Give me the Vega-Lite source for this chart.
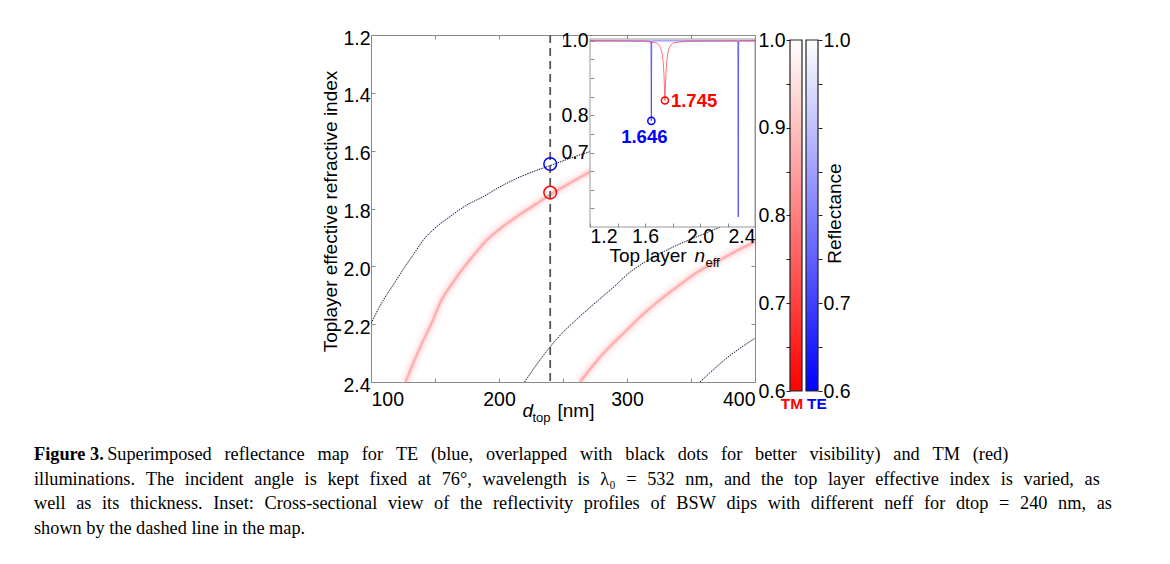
{
  "$schema": "https://vega.github.io/schema/vega-lite/v6.json",
  "width": 384,
  "height": 347,
  "autosize": {"type": "none"},
  "padding": {"left": 371, "top": 35, "right": 415, "bottom": 182},
  "background": "white",
  "title": {
    "text": "Figure 3.",
    "subtitle": [
      "\u200b\u00a0\u00a0\u00a0\u00a0\u00a0\u00a0\u00a0\u00a0\u00a0\u00a0\u00a0\u00a0\u00a0\u00a0\u00a0\u00a0Superimposed\u2002\u2009reflectance\u2002\u2009map\u2002\u2009for\u2002\u2009TE\u2002\u2009(blue,\u2002\u2009overlapped\u2002\u2009with\u2002\u2009black\u2002\u2009dots\u2002\u2009for\u2002\u2009better\u2002\u2009visibility)\u2002\u2009and\u2002\u2009TM\u2002\u2009(red)",
      "illuminations.\u2004\u2005The\u2004\u2005incident\u2004\u2005angle\u2004\u2005is\u2004\u2005kept\u2004\u2005fixed\u2004\u2005at\u2004\u200576°,\u2004\u2005wavelength\u2004\u2005is\u2004\u2005λ₀\u2004\u2005=\u2004\u2005532\u2004\u2005nm,\u2004\u2005and\u2004\u2005the\u2004\u2005top\u2004\u2005layer\u2004\u2005effective\u2004\u2005index\u2004\u2005is\u2004\u2005varied,\u2004\u2005as",
      "well\u2004\u2005as\u2004\u2005its\u2004\u2005thickness.\u2004\u2005Inset:\u2004\u2005Cross-sectional\u2004\u2005view\u2004\u2005of\u2004\u2005the\u2004\u2005reflectivity\u2004\u2005profiles\u2004\u2005of\u2004\u2005BSW\u2004\u2005dips\u2004\u2005with\u2004\u2005different\u2004\u2005neff\u2004\u2005for\u2004\u2005dtop\u2004\u2005=\u2004\u2005240\u2004\u2005nm,\u2004\u2005as",
      "shown by the dashed line in the map."
    ],
    "orient": "bottom",
    "anchor": "start",
    "frame": "group",
    "dx": -337,
    "offset": 22,
    "font": "Liberation Serif",
    "fontSize": 18.3,
    "fontWeight": "bold",
    "color": "black",
    "subtitleFont": "Liberation Serif",
    "subtitleFontSize": 18.3,
    "subtitleFontWeight": "normal",
    "subtitleColor": "black",
    "subtitleLineHeight": 24.5,
    "subtitlePadding": -18.3
  },
  "config": {
    "view": {"stroke": "#8a8a8a", "strokeWidth": 1},
    "axis": {
      "grid": false,
      "domain": false,
      "tickColor": "#8a8a8a",
      "tickWidth": 1,
      "labelFont": "Liberation Sans",
      "labelFontSize": 19.5,
      "labelColor": "black",
      "titleFont": "Liberation Sans",
      "titleFontSize": 19,
      "titleFontWeight": "normal",
      "titleColor": "black"
    },
    "text": {"font": "Liberation Sans"}
  },
  "datasets": {
    "tm": [
      {"curve": "TM1", "d": 127, "n": 2.4},
      {"curve": "TM1", "d": 134, "n": 2.325},
      {"curve": "TM1", "d": 141, "n": 2.255},
      {"curve": "TM1", "d": 148, "n": 2.19},
      {"curve": "TM1", "d": 155, "n": 2.117},
      {"curve": "TM1", "d": 163, "n": 2.062},
      {"curve": "TM1", "d": 172, "n": 2.007},
      {"curve": "TM1", "d": 181, "n": 1.957},
      {"curve": "TM1", "d": 190.4, "n": 1.909},
      {"curve": "TM1", "d": 202, "n": 1.866},
      {"curve": "TM1", "d": 213.8, "n": 1.828},
      {"curve": "TM1", "d": 227, "n": 1.79},
      {"curve": "TM1", "d": 240, "n": 1.752},
      {"curve": "TM1", "d": 255, "n": 1.713},
      {"curve": "TM1", "d": 271, "n": 1.673},
      {"curve": "TM1", "d": 290, "n": 1.63},
      {"curve": "TM1", "d": 310, "n": 1.59},
      {"curve": "TM2", "d": 263.3, "n": 2.4},
      {"curve": "TM2", "d": 273, "n": 2.345},
      {"curve": "TM2", "d": 284.1, "n": 2.289},
      {"curve": "TM2", "d": 300, "n": 2.22},
      {"curve": "TM2", "d": 312, "n": 2.168},
      {"curve": "TM2", "d": 325.8, "n": 2.116},
      {"curve": "TM2", "d": 340, "n": 2.068},
      {"curve": "TM2", "d": 353.6, "n": 2.024},
      {"curve": "TM2", "d": 370, "n": 1.984},
      {"curve": "TM2", "d": 385, "n": 1.948},
      {"curve": "TM2", "d": 400.3, "n": 1.915}
    ],
    "te": [
      {"curve": "TE1", "d": 100, "n": 2.197},
      {"curve": "TE1", "d": 109.6, "n": 2.117},
      {"curve": "TE1", "d": 118, "n": 2.06},
      {"curve": "TE1", "d": 126, "n": 2.005},
      {"curve": "TE1", "d": 133, "n": 1.96},
      {"curve": "TE1", "d": 140.9, "n": 1.909},
      {"curve": "TE1", "d": 150, "n": 1.868},
      {"curve": "TE1", "d": 161.7, "n": 1.828},
      {"curve": "TE1", "d": 174, "n": 1.79},
      {"curve": "TE1", "d": 187.7, "n": 1.759},
      {"curve": "TE1", "d": 200, "n": 1.727},
      {"curve": "TE1", "d": 213.8, "n": 1.696},
      {"curve": "TE1", "d": 227, "n": 1.672},
      {"curve": "TE1", "d": 239.8, "n": 1.652},
      {"curve": "TE1", "d": 255, "n": 1.627},
      {"curve": "TE1", "d": 272, "n": 1.602},
      {"curve": "TE1", "d": 290, "n": 1.578},
      {"curve": "TE2", "d": 220, "n": 2.4},
      {"curve": "TE2", "d": 230, "n": 2.336},
      {"curve": "TE2", "d": 240, "n": 2.278},
      {"curve": "TE2", "d": 250, "n": 2.228},
      {"curve": "TE2", "d": 260, "n": 2.186},
      {"curve": "TE2", "d": 277.6, "n": 2.117},
      {"curve": "TE2", "d": 290, "n": 2.07},
      {"curve": "TE2", "d": 301.6, "n": 2.023},
      {"curve": "TE2", "d": 320, "n": 1.97},
      {"curve": "TE2", "d": 340, "n": 1.925},
      {"curve": "TE2", "d": 360, "n": 1.888},
      {"curve": "TE2", "d": 376.4, "n": 1.857},
      {"curve": "TE2", "d": 400, "n": 1.82},
      {"curve": "TE3", "d": 357, "n": 2.4},
      {"curve": "TE3", "d": 368, "n": 2.355},
      {"curve": "TE3", "d": 380, "n": 2.31},
      {"curve": "TE3", "d": 390, "n": 2.278},
      {"curve": "TE3", "d": 400, "n": 2.249}
    ],
    "dip": [
      {"pol": "TE", "d": 240, "n": 1.646, "R": 0.785, "label": "1.646"},
      {"pol": "TM", "d": 240, "n": 1.745, "R": 0.84, "label": "1.745"}
    ],
    "profile": [
      {"pol": "TE", "n": 1.2, "R": 1.0},
      {"pol": "TE", "n": 1.64, "R": 1.0},
      {"pol": "TE", "n": 1.643, "R": 0.999},
      {"pol": "TE", "n": 1.646, "R": 0.785},
      {"pol": "TE", "n": 1.649, "R": 0.999},
      {"pol": "TE", "n": 1.652, "R": 1.0},
      {"pol": "TE", "n": 2.27, "R": 1.0},
      {"pol": "TE", "n": 2.275, "R": 0.999},
      {"pol": "TE", "n": 2.278, "R": 0.527},
      {"pol": "TE", "n": 2.281, "R": 0.999},
      {"pol": "TE", "n": 2.285, "R": 1.0},
      {"pol": "TE", "n": 2.4, "R": 1.0},
      {"pol": "TM", "n": 1.2, "R": 1.0},
      {"pol": "TM", "n": 1.6, "R": 0.999},
      {"pol": "TM", "n": 1.68, "R": 0.995},
      {"pol": "TM", "n": 1.7, "R": 0.99},
      {"pol": "TM", "n": 1.715, "R": 0.98},
      {"pol": "TM", "n": 1.725, "R": 0.965},
      {"pol": "TM", "n": 1.733, "R": 0.94},
      {"pol": "TM", "n": 1.738, "R": 0.91},
      {"pol": "TM", "n": 1.742, "R": 0.87},
      {"pol": "TM", "n": 1.745, "R": 0.84},
      {"pol": "TM", "n": 1.748, "R": 0.87},
      {"pol": "TM", "n": 1.752, "R": 0.91},
      {"pol": "TM", "n": 1.757, "R": 0.94},
      {"pol": "TM", "n": 1.765, "R": 0.965},
      {"pol": "TM", "n": 1.775, "R": 0.98},
      {"pol": "TM", "n": 1.79, "R": 0.99},
      {"pol": "TM", "n": 1.81, "R": 0.995},
      {"pol": "TM", "n": 1.9, "R": 0.999},
      {"pol": "TM", "n": 2.4, "R": 1.0}
    ],
    "cut": [{"d": 240}],
    "cbar": [
      {"pol": "TM", "lo": 0.6, "hi": 1.0},
      {"pol": "TE", "lo": 0.6, "hi": 1.0}
    ]
  },
  "resolve": {"scale": {"x": "independent", "y": "independent"}},
  "layer": [
    {
      "data": {"name": "tm"},
      "mark": {"type": "line", "color": "#ff0000", "strokeWidth": 14, "opacity": 0.03, "clip": true, "interpolate": "monotone"},
      "encoding": {
        "x": {"field": "d", "type": "quantitative", "scale": {"domain": [100, 400], "nice": false, "zero": false},
          "axis": {"orient": "bottom", "values": [100, 150, 200, 250, 300, 350, 400], "labelExpr": "datum.value % 100 == 0 ? datum.label : ''", "labelFlush": true, "tickSize": -4, "labelPadding": 12, "title": null}},
        "y": {"field": "n", "type": "quantitative", "scale": {"domain": [1.2, 2.4], "nice": false, "zero": false, "range": [0, 347]},
          "axis": {"orient": "left", "values": [1.2, 1.4, 1.6, 1.8, 2.0, 2.2, 2.4], "format": ".1f", "tickSize": -4, "labelPadding": 5, "labelOffset": 3,
            "title": "Toplayer effective refractive index", "titleX": -41, "titleY": 176, "titleAngle": 270, "titleAlign": "center", "titleBaseline": "middle"}},
        "detail": {"field": "curve"}
      }
    },
    {
      "data": {"name": "tm"},
      "mark": {"type": "line", "color": "#ff0000", "strokeWidth": 7, "opacity": 0.065, "clip": true, "interpolate": "monotone"},
      "encoding": {
        "x": {"field": "d", "type": "quantitative", "scale": {"domain": [100, 400], "nice": false, "zero": false},
          "axis": {"orient": "top", "values": [100, 150, 200, 250, 300, 350, 400], "labels": false, "tickSize": -4, "title": null}},
        "y": {"field": "n", "type": "quantitative", "scale": {"domain": [1.2, 2.4], "nice": false, "zero": false, "range": [0, 347]},
          "axis": {"orient": "right", "values": [1.2, 1.4, 1.6, 1.8, 2.0, 2.2, 2.4], "labels": false, "tickSize": -4, "title": null}},
        "detail": {"field": "curve"}
      }
    },
    {
      "data": {"name": "tm"},
      "mark": {"type": "line", "color": "#ff0000", "strokeWidth": 2.5, "opacity": 0.24, "clip": true, "interpolate": "monotone"},
      "encoding": {
        "x": {"field": "d", "type": "quantitative", "scale": {"domain": [100, 400], "nice": false, "zero": false},
          "axis": {"orient": "bottom", "labels": false, "ticks": false, "title": "d", "titleFontStyle": "italic", "titleX": 151, "titleY": 34, "titleAlign": "left", "titleBaseline": "alphabetic"}},
        "y": {"field": "n", "type": "quantitative", "scale": {"domain": [1.2, 2.4], "nice": false, "zero": false, "range": [0, 347]}, "axis": null},
        "detail": {"field": "curve"}
      }
    },
    {
      "data": {"name": "te"},
      "mark": {"type": "line", "color": "#3050ff", "strokeWidth": 2, "opacity": 0.08, "clip": true, "interpolate": "monotone"},
      "encoding": {
        "x": {"field": "d", "type": "quantitative", "scale": {"domain": [100, 400], "nice": false, "zero": false},
          "axis": {"orient": "bottom", "labels": false, "ticks": false, "title": "top", "titleFontSize": 13, "titleX": 161, "titleY": 39, "titleAlign": "left", "titleBaseline": "alphabetic"}},
        "y": {"field": "n", "type": "quantitative", "scale": {"domain": [1.2, 2.4], "nice": false, "zero": false, "range": [0, 347]}, "axis": null},
        "detail": {"field": "curve"}
      }
    },
    {
      "data": {"name": "te"},
      "mark": {"type": "line", "color": "#111111", "strokeWidth": 1, "strokeDash": [1.3, 1.2], "clip": true, "interpolate": "monotone"},
      "encoding": {
        "x": {"field": "d", "type": "quantitative", "scale": {"domain": [100, 400], "nice": false, "zero": false},
          "axis": {"orient": "bottom", "labels": false, "ticks": false, "title": "[nm]", "titleX": 186, "titleY": 34, "titleAlign": "left", "titleBaseline": "alphabetic"}},
        "y": {"field": "n", "type": "quantitative", "scale": {"domain": [1.2, 2.4], "nice": false, "zero": false, "range": [0, 347]}, "axis": null},
        "detail": {"field": "curve"}
      }
    },
    {
      "data": {"name": "cut"},
      "mark": {"type": "rule", "color": "#555555", "strokeWidth": 1.8, "strokeDash": [8, 5]},
      "encoding": {
        "x": {"field": "d", "type": "quantitative", "scale": {"domain": [100, 400], "nice": false, "zero": false}, "axis": null}
      }
    },
    {
      "data": {"name": "dip"},
      "mark": {"type": "point", "shape": "circle", "filled": false, "size": 160, "strokeWidth": 1.5, "opacity": 1},
      "encoding": {
        "x": {"field": "d", "type": "quantitative", "scale": {"domain": [100, 400], "nice": false, "zero": false}, "axis": null},
        "y": {"field": "n", "type": "quantitative", "scale": {"domain": [1.2, 2.4], "nice": false, "zero": false, "range": [0, 347]}, "axis": null},
        "color": {"field": "pol", "type": "nominal", "scale": {"domain": ["TE", "TM"], "range": ["#0000ff", "#ff0000"]}, "legend": null}
      }
    },
    {
      "data": {"values": [{}]},
      "mark": {"type": "rect", "fill": "white", "stroke": "#999999", "strokeWidth": 1},
      "encoding": {
        "x": {"datum": 1.2, "type": "quantitative", "scale": {"domain": [1.2, 2.4], "nice": false, "zero": false, "range": [219, 384]},
          "axis": {"orient": "bottom", "offset": -155, "zindex": 1, "values": [1.2, 1.4, 1.6, 1.8, 2.0, 2.2, 2.4], "format": ".1f",
            "labelExpr": "(datum.value == 1.2 || datum.value == 1.6 || datum.value == 2 || datum.value == 2.4) ? format(datum.value, '.1f') : ''",
            "tickSize": -4, "labelPadding": 4, "title": "Top layer", "titleX": 238, "titleY": 34, "titleAlign": "left", "titleBaseline": "alphabetic"}},
        "x2": {"datum": 2.4},
        "y": {"datum": 0.5, "type": "quantitative", "scale": {"domain": [0.5, 1.005], "nice": false, "zero": false, "range": [192, 4]},
          "axis": {"orient": "left", "offset": -219, "zindex": 1, "values": [0.55, 0.6, 0.65, 0.7, 0.75, 0.8, 0.85, 0.9, 0.95, 1.0],
            "labelExpr": "(abs(datum.value - 1) < 0.001 || abs(datum.value - 0.8) < 0.001 || abs(datum.value - 0.7) < 0.001) ? format(datum.value, '.1f') : ''",
            "tickSize": -4, "labelPadding": 6, "title": null}},
        "y2": {"datum": 1.005}
      }
    },
    {
      "data": {"name": "profile"},
      "mark": {"type": "line", "strokeWidth": 1, "opacity": 0.55},
      "encoding": {
        "x": {"field": "n", "type": "quantitative", "scale": {"domain": [1.2, 2.4], "nice": false, "zero": false, "range": [219, 384]},
          "axis": {"orient": "bottom", "offset": -155, "zindex": 1, "labels": false, "ticks": false, "title": "n", "titleFontStyle": "italic", "titleX": 323, "titleY": 34, "titleAlign": "left", "titleBaseline": "alphabetic"}},
        "y": {"field": "R", "type": "quantitative", "scale": {"domain": [0.5, 1.005], "nice": false, "zero": false, "range": [192, 4]}, "axis": null},
        "color": {"field": "pol", "type": "nominal", "scale": {"domain": ["TE", "TM"], "range": ["#0000ff", "#ff0000"]}, "legend": null}
      }
    },
    {
      "data": {"name": "dip"},
      "mark": {"type": "point", "shape": "circle", "filled": false, "size": 50, "strokeWidth": 1.5, "opacity": 1},
      "encoding": {
        "x": {"field": "n", "type": "quantitative", "scale": {"domain": [1.2, 2.4], "nice": false, "zero": false, "range": [219, 384]},
          "axis": {"orient": "bottom", "offset": -155, "zindex": 1, "labels": false, "ticks": false, "title": "eff", "titleFontSize": 13, "titleX": 334, "titleY": 39, "titleAlign": "left", "titleBaseline": "alphabetic"}},
        "y": {"field": "R", "type": "quantitative", "scale": {"domain": [0.5, 1.005], "nice": false, "zero": false, "range": [192, 4]}, "axis": null},
        "color": {"field": "pol", "type": "nominal", "scale": {"domain": ["TE", "TM"], "range": ["#0000ff", "#ff0000"]}, "legend": null}
      }
    },
    {
      "data": {"name": "dip"},
      "transform": [{"filter": "datum.pol == 'TE'"}],
      "mark": {"type": "text", "fontWeight": "bold", "fontSize": 18.5, "align": "center", "baseline": "middle", "dx": -7, "dy": 16},
      "encoding": {
        "x": {"field": "n", "type": "quantitative", "scale": {"domain": [1.2, 2.4], "nice": false, "zero": false, "range": [219, 384]}, "axis": null},
        "y": {"field": "R", "type": "quantitative", "scale": {"domain": [0.5, 1.005], "nice": false, "zero": false, "range": [192, 4]}, "axis": null},
        "text": {"field": "label"},
        "color": {"field": "pol", "type": "nominal", "scale": {"domain": ["TE", "TM"], "range": ["#0000ff", "#ff0000"]}, "legend": null}
      }
    },
    {
      "data": {"name": "dip"},
      "transform": [{"filter": "datum.pol == 'TM'"}],
      "mark": {"type": "text", "fontWeight": "bold", "fontSize": 18.5, "align": "left", "baseline": "middle", "dx": 6, "dy": 1},
      "encoding": {
        "x": {"field": "n", "type": "quantitative", "scale": {"domain": [1.2, 2.4], "nice": false, "zero": false, "range": [219, 384]}, "axis": null},
        "y": {"field": "R", "type": "quantitative", "scale": {"domain": [0.5, 1.005], "nice": false, "zero": false, "range": [192, 4]}, "axis": null},
        "text": {"field": "label"},
        "color": {"field": "pol", "type": "nominal", "scale": {"domain": ["TE", "TM"], "range": ["#0000ff", "#ff0000"]}, "legend": null}
      }
    },
    {
      "data": {"name": "cbar"},
      "transform": [{"filter": "datum.pol == 'TM'"}],
      "mark": {"type": "rect", "stroke": "#222222", "strokeWidth": 1.2,
        "fill": {"gradient": "linear", "x1": 0, "y1": 1, "x2": 0, "y2": 0, "stops": [{"offset": 0, "color": "#ff0000"}, {"offset": 1, "color": "#ffffff"}]}},
      "encoding": {
        "x": {"field": "pol", "type": "nominal", "scale": {"type": "band", "domain": ["TM", "TE"], "range": [419, 447], "paddingInner": 0.25, "paddingOuter": 0}, "axis": null},
        "y": {"field": "lo", "type": "quantitative", "scale": {"domain": [0.6, 1.0], "nice": false, "zero": false, "range": [356, 5]},
          "axis": {"orient": "left", "offset": -419, "zindex": 1, "values": [0.6, 0.65, 0.7, 0.75, 0.8, 0.85, 0.9, 0.95, 1.0],
            "labelExpr": "abs(datum.value * 10 - round(datum.value * 10)) < 0.01 ? format(datum.value, '.1f') : ''",
            "tickSize": 4, "tickColor": "#222222", "labelPadding": 1, "title": null}},
        "y2": {"field": "hi"}
      }
    },
    {
      "data": {"name": "cbar"},
      "transform": [{"filter": "datum.pol == 'TE'"}],
      "mark": {"type": "rect", "stroke": "#222222", "strokeWidth": 1.2,
        "fill": {"gradient": "linear", "x1": 0, "y1": 1, "x2": 0, "y2": 0, "stops": [{"offset": 0, "color": "#0000ff"}, {"offset": 1, "color": "#ffffff"}]}},
      "encoding": {
        "x": {"field": "pol", "type": "nominal", "scale": {"type": "band", "domain": ["TM", "TE"], "range": [419, 447], "paddingInner": 0.25, "paddingOuter": 0}, "axis": null},
        "y": {"field": "lo", "type": "quantitative", "scale": {"domain": [0.6, 1.0], "nice": false, "zero": false, "range": [356, 5]},
          "axis": {"orient": "right", "offset": 63, "zindex": 1, "values": [0.6, 0.65, 0.7, 0.75, 0.8, 0.85, 0.9, 0.95, 1.0],
            "labelExpr": "(abs(datum.value - 1) < 0.001 || abs(datum.value - 0.7) < 0.001 || abs(datum.value - 0.6) < 0.001) ? format(datum.value, '.1f') : ''",
            "tickSize": 4, "tickColor": "#222222", "labelPadding": 1,
            "title": "Reflectance", "titleAngle": 270, "titleX": 16, "titleY": 178, "titleAlign": "center", "titleBaseline": "middle"}},
        "y2": {"field": "hi"}
      }
    },
    {
      "data": {"name": "cbar"},
      "transform": [{"filter": "datum.pol == 'TM'"}],
      "mark": {"type": "text", "fontWeight": "bold", "fontSize": 15.5, "align": "center", "baseline": "top", "dx": -4, "dy": 6},
      "encoding": {
        "x": {"field": "pol", "type": "nominal", "scale": {"type": "band", "domain": ["TM", "TE"], "range": [419, 447], "paddingInner": 0.25, "paddingOuter": 0}, "axis": null},
        "y": {"field": "lo", "type": "quantitative", "scale": {"domain": [0.6, 1.0], "nice": false, "zero": false, "range": [356, 5]}, "axis": null},
        "text": {"field": "pol"},
        "color": {"field": "pol", "type": "nominal", "scale": {"domain": ["TE", "TM"], "range": ["#0000ff", "#ff0000"]}, "legend": null}
      }
    },
    {
      "data": {"name": "cbar"},
      "transform": [{"filter": "datum.pol == 'TE'"}],
      "mark": {"type": "text", "fontWeight": "bold", "fontSize": 15.5, "align": "center", "baseline": "top", "dx": 5, "dy": 6},
      "encoding": {
        "x": {"field": "pol", "type": "nominal", "scale": {"type": "band", "domain": ["TM", "TE"], "range": [419, 447], "paddingInner": 0.25, "paddingOuter": 0}, "axis": null},
        "y": {"field": "lo", "type": "quantitative", "scale": {"domain": [0.6, 1.0], "nice": false, "zero": false, "range": [356, 5]}, "axis": null},
        "text": {"field": "pol"},
        "color": {"field": "pol", "type": "nominal", "scale": {"domain": ["TE", "TM"], "range": ["#0000ff", "#ff0000"]}, "legend": null}
      }
    }
  ]
}
